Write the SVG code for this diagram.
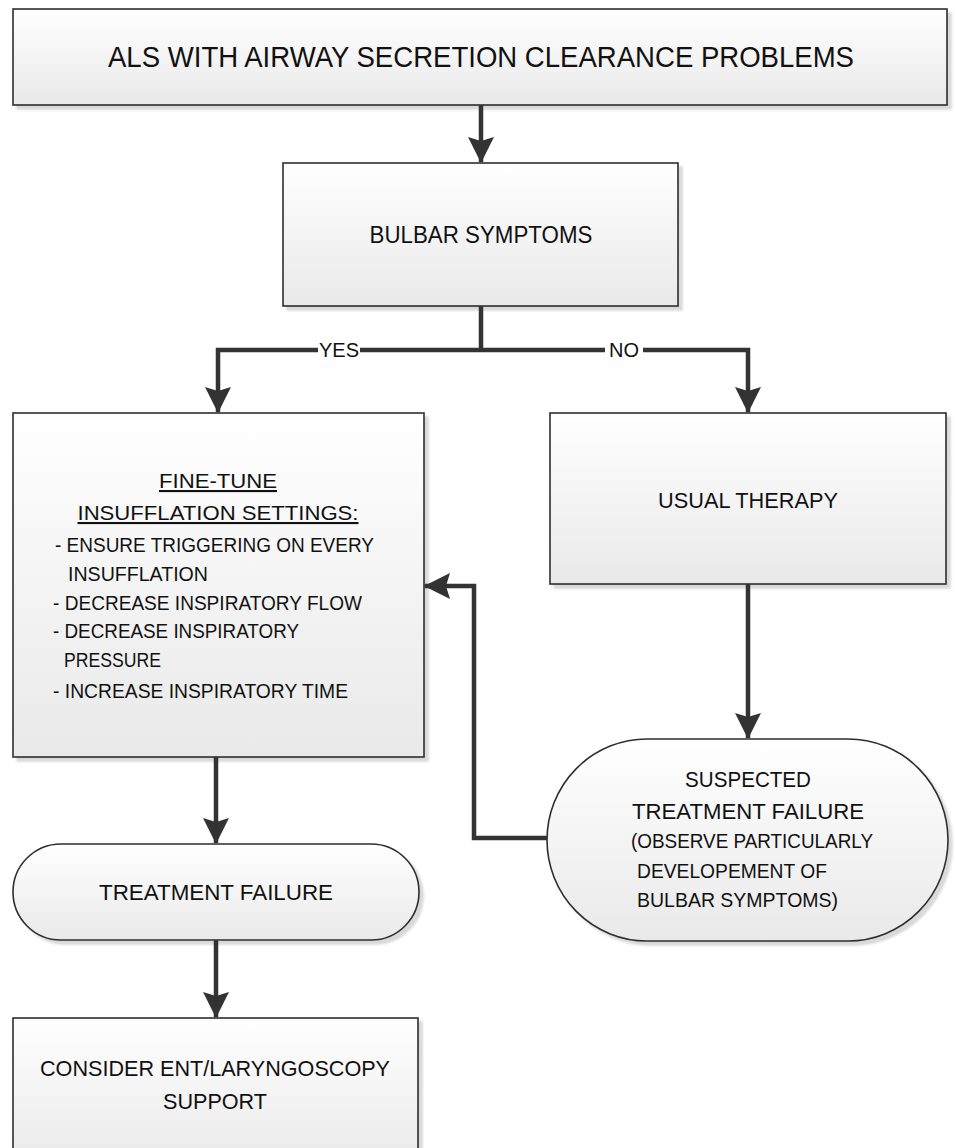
<svg xmlns="http://www.w3.org/2000/svg" width="955" height="1148" viewBox="0 0 955 1148">
<style>
.box{fill:url(#g);stroke:#2e2e2e;stroke-width:1.6;filter:url(#sh)}
.t{font-family:"Liberation Sans",Arial,sans-serif;fill:#111}
.c{text-anchor:middle}
.con{fill:none;stroke:#333;stroke-width:4.5}
.lbl{font-family:"Liberation Sans",Arial,sans-serif;font-size:20px;fill:#111;text-anchor:middle}
</style>
<defs>
<linearGradient id="g" x1="0" y1="0" x2="0" y2="1">
<stop offset="0" stop-color="#ffffff"/>
<stop offset="1" stop-color="#e9e9e9"/>
</linearGradient>
<filter id="sh" x="-5%" y="-5%" width="115%" height="120%">
<feDropShadow dx="4" dy="4" stdDeviation="1.2" flood-color="#000" flood-opacity="0.15"/>
</filter>
<marker id="ah" markerUnits="userSpaceOnUse" markerWidth="26" markerHeight="26" viewBox="0 0 26 26" refX="25" refY="13" orient="auto">
<path d="M0,0 L26,13 L0,26 L4,13 z" fill="#333"/>
</marker>
</defs>

<g id="n-als">
<rect class="box" x="13" y="9" width="934" height="96"/>
<text class="t c" x="481" y="67" font-size="29" textLength="746" lengthAdjust="spacingAndGlyphs">ALS WITH AIRWAY SECRETION CLEARANCE PROBLEMS</text>
</g>

<g id="n-bulbar">
<rect class="box" x="283" y="163" width="395" height="143"/>
<text class="t c" x="481" y="243" font-size="23" textLength="223" lengthAdjust="spacingAndGlyphs">BULBAR SYMPTOMS</text>
</g>

<g id="n-finetune">
<rect class="box" x="13" y="413" width="411" height="344"/>
<text class="t c" x="218" y="488" font-size="21" text-decoration="underline" textLength="118" lengthAdjust="spacingAndGlyphs">FINE-TUNE</text>
<text class="t c" x="218" y="520" font-size="21" text-decoration="underline" textLength="281" lengthAdjust="spacingAndGlyphs">INSUFFLATION SETTINGS:</text>
<text class="t" x="55" y="552" font-size="20" textLength="319" lengthAdjust="spacingAndGlyphs">- ENSURE TRIGGERING ON EVERY</text>
<text class="t" x="68" y="581" font-size="20" textLength="140" lengthAdjust="spacingAndGlyphs">INSUFFLATION</text>
<text class="t" x="53" y="610" font-size="20" textLength="309" lengthAdjust="spacingAndGlyphs">- DECREASE INSPIRATORY FLOW</text>
<text class="t" x="53" y="638" font-size="20" textLength="246" lengthAdjust="spacingAndGlyphs">- DECREASE INSPIRATORY</text>
<text class="t" x="64" y="667" font-size="20" textLength="97" lengthAdjust="spacingAndGlyphs">PRESSURE</text>
<text class="t" x="53" y="698" font-size="20" textLength="295" lengthAdjust="spacingAndGlyphs">- INCREASE INSPIRATORY TIME</text>
</g>

<g id="n-usual">
<rect class="box" x="550" y="413" width="396" height="171"/>
<text class="t c" x="748" y="508" font-size="22" textLength="180" lengthAdjust="spacingAndGlyphs">USUAL THERAPY</text>
</g>

<g id="n-suspected">
<rect class="box" x="547" y="739" width="401" height="202" rx="100" ry="101"/>
<text class="t c" x="748" y="787" font-size="22" textLength="126" lengthAdjust="spacingAndGlyphs">SUSPECTED</text>
<text class="t c" x="748" y="819" font-size="22" textLength="232" lengthAdjust="spacingAndGlyphs">TREATMENT FAILURE</text>
<text class="t" x="631" y="848" font-size="21" textLength="242" lengthAdjust="spacingAndGlyphs">(OBSERVE PARTICULARLY</text>
<text class="t" x="637" y="878" font-size="21" textLength="190" lengthAdjust="spacingAndGlyphs">DEVELOPEMENT OF</text>
<text class="t" x="637" y="907" font-size="21" textLength="201" lengthAdjust="spacingAndGlyphs">BULBAR SYMPTOMS)</text>
</g>

<g id="n-failure">
<rect class="box" x="13" y="844" width="406" height="96" rx="48" ry="48"/>
<text class="t c" x="216" y="900" font-size="22" textLength="234" lengthAdjust="spacingAndGlyphs">TREATMENT FAILURE</text>
</g>

<g id="n-ent">
<rect class="box" x="13" y="1018" width="405" height="150"/>
<text class="t c" x="215" y="1076" font-size="22" textLength="350" lengthAdjust="spacingAndGlyphs">CONSIDER ENT/LARYNGOSCOPY</text>
<text class="t c" x="215" y="1109" font-size="22" textLength="104" lengthAdjust="spacingAndGlyphs">SUPPORT</text>
</g>

<g id="connectors">
<path class="con" d="M481,105 V162" marker-end="url(#ah)"/>
<path class="con" d="M481,306 V350"/>
<path class="con" d="M481,350 H218 V412" marker-end="url(#ah)"/>
<path class="con" d="M481,350 H748 V412" marker-end="url(#ah)"/>
<rect x="318" y="338" width="42" height="24" fill="#fff"/>
<text class="lbl" x="339" y="357">YES</text>
<rect x="605" y="338" width="38" height="24" fill="#fff"/>
<text class="lbl" x="624" y="357">NO</text>
<path class="con" d="M748,584 V738" marker-end="url(#ah)"/>
<path class="con" d="M547,838 H474 V586 H425" marker-end="url(#ah)"/>
<path class="con" d="M216,757 V843" marker-end="url(#ah)"/>
<path class="con" d="M216,940 V1017" marker-end="url(#ah)"/>
</g>
</svg>
